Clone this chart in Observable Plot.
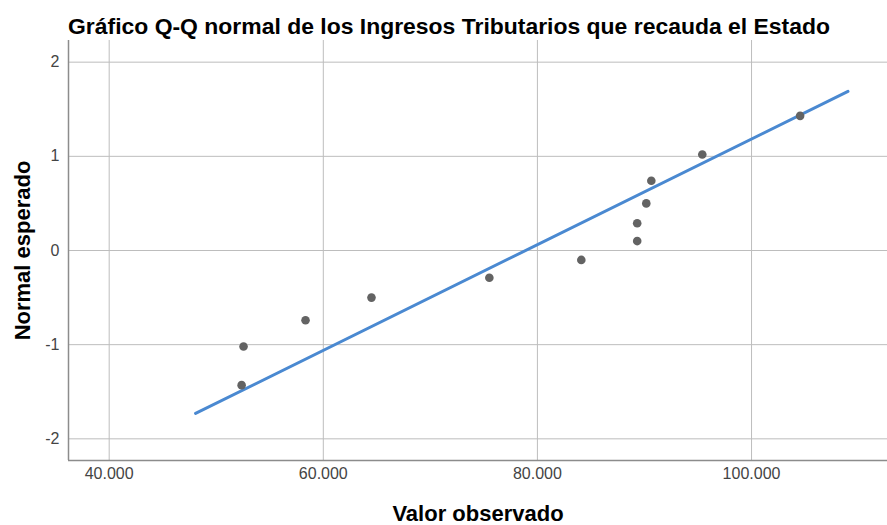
<!DOCTYPE html>
<html>
<head>
<meta charset="utf-8">
<script src="https://cdn.jsdelivr.net/npm/d3@7"></script>
<script src="https://cdn.jsdelivr.net/npm/@observablehq/plot@0.6"></script>
<style>
  html, body { margin: 0; padding: 0; background: #fff; }
  #wrap { position: relative; width: 887px; height: 525px; padding-top: 40px; box-sizing: border-box; font-family: "Liberation Sans", Arial, sans-serif; }
  #title { position: absolute; left: 68px; top: 15px; font-size: 22px; line-height: 24px; font-weight: bold; color: #000; white-space: nowrap; transform-origin: left center; }
  svg { display: block; }
</style>
</head>
<body>
<div id="wrap">
  <div id="title">Gráfico Q-Q normal de los Ingresos Tributarios que recauda el Estado</div>
  <div id="chart"></div>
</div>
<script>
// Observed values (Ingresos Tributarios) and expected normal quantiles
const observed = [52370, 52550, 58340, 64500, 75510, 84100, 89320, 89320, 90170, 90640, 95400, 104540];
const expected = [-1.43, -1.02, -0.74, -0.50, -0.29, -0.10, 0.10, 0.29, 0.50, 0.74, 1.02, 1.43];

// Reference normal line endpoints
const lineObserved = [48070, 109010];
const lineExpected = [-1.73, 1.69];

// Axes
const xDomain = [36200, 112700];
const yDomain = [-2.23, 2.23];
const xTicks = [40000, 60000, 80000, 100000];
const xTickLabels = ["40.000", "60.000", "80.000", "100.000"];
const yTicks = [-2, -1, 0, 1, 2];
const yTickLabels = ["-2", "-1", "0", "1", "2"];

const xLabel = "Valor observado";
const yLabel = "Normal esperado";

const points = observed.map((v, i) => ({x: v, y: expected[i]}));
const lineData = lineObserved.map((v, i) => ({x: v, y: lineExpected[i]}));

const chart = Plot.plot({
  width: 887,
  height: 485,
  marginTop: 0,
  marginLeft: 68,
  marginRight: 0,
  marginBottom: 65,
  style: {fontFamily: "'Liberation Sans', Arial, sans-serif", background: "#fff", overflow: "visible"},
  x: {domain: xDomain},
  y: {domain: yDomain},
  marks: [
    Plot.gridX(xTicks, {stroke: "#bdbdbd", strokeOpacity: 1, strokeWidth: 1}),
    Plot.gridY(yTicks, {stroke: "#bdbdbd", strokeOpacity: 1, strokeWidth: 1}),
    Plot.ruleX([xDomain[0]], {stroke: "#8c8c8c", strokeWidth: 1.5}),
    Plot.ruleY([yDomain[0]], {stroke: "#8c8c8c", strokeWidth: 1.5}),
    Plot.line(lineData, {x: "x", y: "y", stroke: "#4a89d1", strokeWidth: 3}),
    Plot.dot(points, {x: "x", y: "y", r: 4.3, fill: "#636363", stroke: "none"}),
    Plot.axisX(xTicks, {tickSize: 0, tickPadding: 7, fontSize: 16, fill: "#444", label: null,
      tickFormat: d => xTickLabels[xTicks.indexOf(d)]}),
    Plot.axisY(yTicks, {tickSize: 0, tickPadding: 9, fontSize: 16, fill: "#444", label: null,
      tickFormat: d => yTickLabels[yTicks.indexOf(d)]}),
    Plot.text([xLabel], {frameAnchor: "bottom", dy: 53, lineAnchor: "middle", textAnchor: "middle", text: d => d, fontSize: 22, fontWeight: "bold", fill: "#000"}),
    Plot.text([yLabel], {frameAnchor: "left", dx: -46, rotate: -90, textAnchor: "middle", lineAnchor: "middle", text: d => d, fontSize: 22, fontWeight: "bold", fill: "#000"})
  ]
});
document.getElementById("chart").appendChild(chart);

// fit title width to the reference span
const t = document.getElementById("title");
const w = t.getBoundingClientRect().width;
const target = 762;
t.style.transform = `scaleX(${target / w})`;
</script>
</body>
</html>
